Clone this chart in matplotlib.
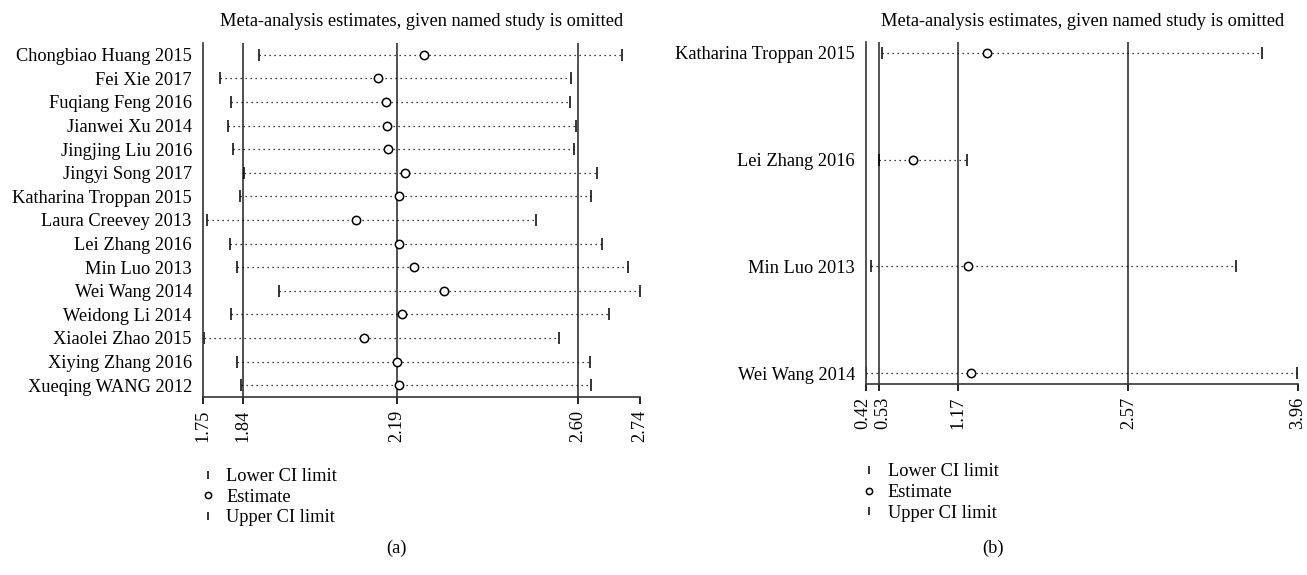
import matplotlib
matplotlib.use("Agg")
import matplotlib.pyplot as plt
import matplotlib.transforms as mtransforms

plt.rcParams['font.family'] = ['Liberation Serif', 'DejaVu Serif']

# Panel (a): all studies
studies_a = ['Chongbiao Huang 2015', 'Fei Xie 2017', 'Fuqiang Feng 2016', 'Jianwei Xu 2014',
             'Jingjing Liu 2016', 'Jingyi Song 2017', 'Katharina Troppan 2015', 'Laura Creevey 2013',
             'Lei Zhang 2016', 'Min Luo 2013', 'Wei Wang 2014', 'Weidong Li 2014',
             'Xiaolei Zhao 2015', 'Xiying Zhang 2016', 'Xueqing WANG 2012']
lower_a = [1.877, 1.788, 1.814, 1.807, 1.817, 1.843, 1.833, 1.758,
           1.811, 1.828, 1.922, 1.813, 1.752, 1.827, 1.837]
est_a = [2.251, 2.147, 2.164, 2.166, 2.168, 2.207, 2.194, 2.096,
         2.194, 2.227, 2.295, 2.200, 2.114, 2.190, 2.195]
upper_a = [2.699, 2.584, 2.581, 2.595, 2.591, 2.642, 2.629, 2.504,
           2.654, 2.712, 2.739, 2.669, 2.557, 2.627, 2.628]
ticks_a = [1.75, 1.84, 2.19, 2.60, 2.74]

# Panel (b): subgroup
studies_b = ['Katharina Troppan 2015', 'Lei Zhang 2016', 'Min Luo 2013', 'Wei Wang 2014']
lower_b = [0.552, 0.523, 0.459, 0.42]
est_b = [1.414, 0.803, 1.253, 1.282]
upper_b = [3.667, 1.247, 3.455, 3.953]
ticks_b = [0.42, 0.53, 1.17, 2.57, 3.96]

title = 'Meta-analysis estimates, given named study is omitted'
legend_labels = ['Lower CI limit', 'Estimate', 'Upper CI limit']
FS = 13.2

fig = plt.figure(figsize=(13.07, 5.75), dpi=100)


def draw_panel(ax, studies, lower, est, upper, ticks, pad):
    ys = list(range(len(studies)))
    for y, lo, hi in zip(ys, lower, upper):
        ax.plot([lo, hi], [y, y], color='black', lw=0.9, linestyle=(0, (1, 3)))
    # overall estimate and its CI as reference lines
    for t in ticks[1:4]:
        ax.axvline(t, color='#333333', lw=1.2, zorder=1)
    h1, = ax.plot(lower, ys, linestyle='none', marker='|', color='black', ms=8, mew=1.1)
    h2, = ax.plot(est, ys, linestyle='none', marker='o', mfc='white', mec='black', ms=6, mew=1.1)
    h3, = ax.plot(upper, ys, linestyle='none', marker='|', color='black', ms=8, mew=1.1)
    ax.set_xlim(ticks[0], ticks[-1])
    ax.set_ylim(len(studies) - 1 + pad, -pad)
    ax.set_xticks(ticks)
    ax.set_xticklabels(['%.2f' % t for t in ticks], rotation=90, fontsize=FS)
    ax.set_yticks(ys)
    ax.set_yticklabels(studies, fontsize=FS)
    ax.tick_params(axis='y', length=0, pad=8)
    ax.tick_params(axis='x', length=5, width=1.2, direction='out', pad=4)
    for s in ['top', 'right']:
        ax.spines[s].set_visible(False)
    for s in ['left', 'bottom']:
        ax.spines[s].set_linewidth(1.2)
        ax.spines[s].set_color('#333333')
    return [h1, h2, h3]


ax1 = fig.add_axes([0.1553, 0.3096, 0.3344, 0.6157])
hs = draw_panel(ax1, studies_a, lower_a, est_a, upper_a, ticks_a, 0.5)
fig.text(0.3225, 0.962, title, ha='center', va='center', fontsize=FS)
fig.legend(hs, legend_labels, loc='upper left',
           bbox_to_anchor=(0.145, 0.202), frameon=False, fontsize=FS, markerscale=0.75,
           handlelength=1.0, handletextpad=0.5, labelspacing=0.2, borderpad=0)
fig.text(0.3037, 0.047, '(a)', ha='center', va='center', fontsize=FS)

ax2 = fig.add_axes([0.6626, 0.3322, 0.3305, 0.5948])
hs = draw_panel(ax2, studies_b, lower_b, est_b, upper_b, ticks_b, 0.1)
# 0.42 and 0.53 sit very close: nudge them apart a little
labs = ax2.get_xticklabels()
for lab, dx in [(labs[0], -3), (labs[1], 3)]:
    lab.set_transform(lab.get_transform() + mtransforms.ScaledTranslation(dx / 100, 0, fig.dpi_scale_trans))
fig.text(0.828, 0.962, title, ha='center', va='center', fontsize=FS)
fig.legend(hs, legend_labels, loc='upper left',
           bbox_to_anchor=(0.651, 0.210), frameon=False, fontsize=FS, markerscale=0.75,
           handlelength=1.0, handletextpad=0.5, labelspacing=0.2, borderpad=0)
fig.text(0.76, 0.047, '(b)', ha='center', va='center', fontsize=FS)

fig.savefig('out.png', dpi=100)
